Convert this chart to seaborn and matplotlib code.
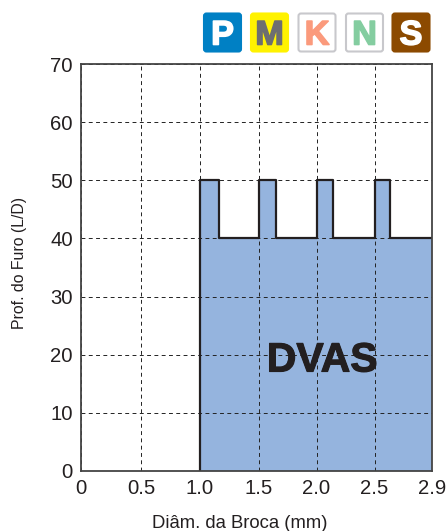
import numpy as np
import matplotlib
matplotlib.use("Agg")
import matplotlib.pyplot as plt
import matplotlib.patheffects as pe
import seaborn as sns
from matplotlib.patches import FancyBboxPatch
from matplotlib.transforms import IdentityTransform

# Values
diam = [1.0, 1.0, 1.16, 1.16, 1.5, 1.5, 1.65, 1.65, 2.0, 2.0, 2.14, 2.14, 2.5, 2.5, 2.61, 2.61, 2.9]
depth = [0, 50, 50, 40, 40, 50, 50, 40, 40, 50, 50, 40, 40, 50, 50, 40, 40]
x_ticks = [0, 0.5, 1.0, 1.5, 2.0, 2.5, 2.9]
x_labels = ["0", "0.5", "1.0", "1.5", "2.0", "2.5", "2.9"]
y_ticks = [0, 10, 20, 30, 40, 50, 60, 70]
badge_letters = ["P", "M", "K", "N", "S"]
badge_faces = ["#0080c4", "#fff200", "#ffffff", "#ffffff", "#8c4a00"]
badge_edges = ["#0080c4", "#fff200", "#c8c8cc", "#c8c8cc", "#8c4a00"]
badge_text = ["#ffffff", "#6d6e71", "#fb9a7c", "#84cda0", "#ffffff"]
badge_left = [203.5, 250.5, 298, 345.5, 392]

sns.set_theme(style="white")
plt.rcParams["font.family"] = ["Liberation Sans", "DejaVu Sans"]

W, H = 446, 531
fig = plt.figure(figsize=(W / 100, H / 100), dpi=100)
ax = fig.add_axes([81 / W, 1 - 471 / H, 351 / W, 407 / H])

# the x axis is not linear: the last tick (2.9) gets a full step
tick_pos = np.array([0, 60, 119, 178, 235.5, 293.5, 351], dtype=float)
ax.set_xscale("function", functions=(
    lambda v: np.interp(v, x_ticks, tick_pos),
    lambda v: np.interp(v, tick_pos, x_ticks),
))

ax.fill_between(diam, depth, 0, color="#95b4de", lw=0, zorder=1)
ax.grid(True, color="#222222", ls=(0, (4, 3.5)), lw=0.7, zorder=2)
ax.set_axisbelow(False)
sns.lineplot(x=diam, y=depth, sort=False, estimator=None, color="#231f20", lw=1.6, ax=ax, zorder=3)

ax.set_xlim(0, 2.9)
ax.set_ylim(0, 70)
ax.set_xticks(x_ticks, x_labels)
ax.set_yticks(y_ticks)
ax.minorticks_off()
ax.tick_params(axis="both", length=0, labelsize=14.6, labelcolor="#231f20")
ax.tick_params(axis="x", pad=6)
ax.tick_params(axis="y", pad=6)
for s in ax.spines.values():
    s.set_color("#444444")
    s.set_linewidth(1.3)
    s.set_zorder(4)

dvas = ax.text(2.05, 19.0, "DVAS", fontsize=29.5, fontweight="bold", color="#231f20",
               ha="center", va="center", zorder=5)
dvas.set_path_effects([pe.withStroke(linewidth=0.8, foreground="#231f20")])
fig.text(239.5 / W, 1 - 523 / H, "Diâm. da Broca (mm)", fontsize=13.35, color="#231f20",
         ha="center", va="center")
fig.text(19.5 / W, 1 - 263 / H, "Prof. do Furo (L/D)", fontsize=11.4, color="#231f20",
         rotation=90, ha="center", va="center")

# material badges, placed in pixels
for left, letter, face, edge, tc in zip(badge_left, badge_letters, badge_faces, badge_edges, badge_text):
    box = FancyBboxPatch((left + 1, H - 51), 36, 37, boxstyle="round,pad=0.5,rounding_size=2.5",
                         fc=face, ec=edge, lw=1.5)
    box.set_transform(IdentityTransform())
    fig.add_artist(box)
    t = fig.text((left + 19) / W, 1 - 32.5 / H, letter, fontsize=24.5, fontweight="bold", color=tc,
                 ha="center", va="center_baseline")
    t.set_path_effects([pe.withStroke(linewidth=1.2, foreground=tc)])

fig.savefig("out.png", dpi=100)
